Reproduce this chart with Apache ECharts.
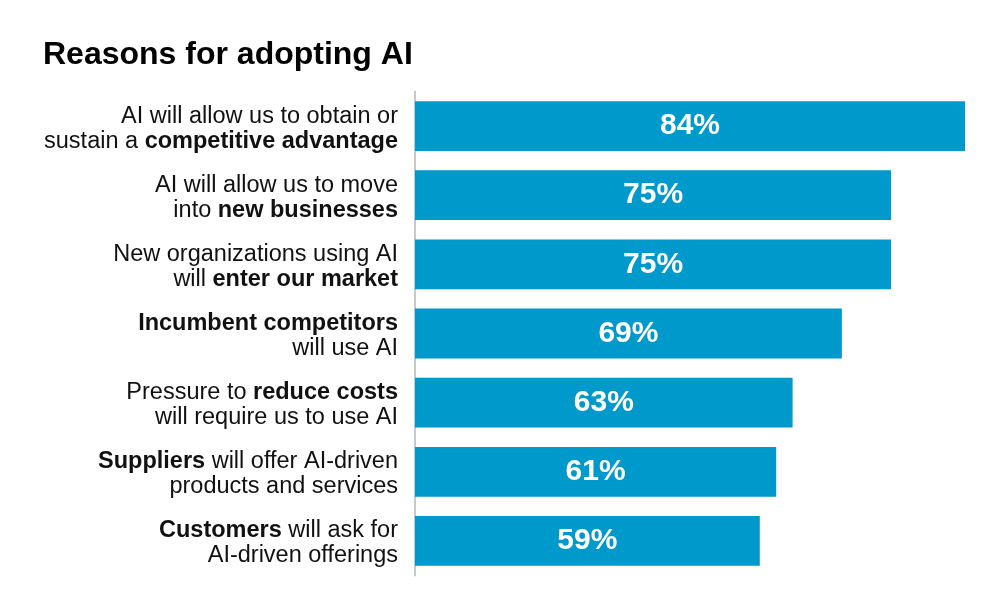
<!DOCTYPE html>
<html><head><meta charset="utf-8">
<script src="https://cdn.jsdelivr.net/npm/echarts@6/dist/echarts.min.js"></script>
<style>html,body{margin:0;padding:0;background:#fff}#c{width:1000px;height:600px}</style>
</head><body><div id="c"></div>
<script>
const titleText = 'Reasons for adopting AI';
const categories = [
  'AI will allow us to obtain or\nsustain a competitive advantage',
  'AI will allow us to move\ninto new businesses',
  'New organizations using AI\nwill enter our market',
  'Incumbent competitors\nwill use AI',
  'Pressure to reduce costs\nwill require us to use AI',
  'Suppliers will offer AI-driven\nproducts and services',
  'Customers will ask for\nAI-driven offerings'
];
const boldPhrases = [
  'competitive advantage',
  'new businesses',
  'enter our market',
  'Incumbent competitors',
  'reduce costs',
  'Suppliers',
  'Customers'
];
const values = [84, 75, 75, 69, 63, 61, 59];

const FONT = '"Liberation Sans", Arial, sans-serif';

function richLabel(text, idx) {
  const bp = boldPhrases[idx];
  return text.split('\n').map(line => {
    const i = line.indexOf(bp);
    if (i < 0) return '{n|' + line + '}';
    let out = '';
    if (i > 0) out += '{n|' + line.slice(0, i) + '}';
    out += '{b|' + bp + '}';
    if (i + bp.length < line.length) out += '{n|' + line.slice(i + bp.length) + '}';
    return out;
  }).join('\n');
}

const chart = echarts.init(document.getElementById('c'));
chart.setOption({
  animation: false,
  backgroundColor: '#fff',
  title: {
    text: titleText, left: 38, top: 34,
    textStyle: { fontFamily: FONT, fontSize: 32, fontWeight: 'bold', color: '#000' }
  },
  grid: { left: 415, right: 35, top: 91.5, bottom: 24.5, containLabel: false },
  xAxis: { type: 'value', min: 17, max: 84, show: false },
  yAxis: {
    type: 'category', data: categories, inverse: true,
    axisLine: { show: true, lineStyle: { color: '#c8c8c8', width: 2 } },
    axisTick: { show: false },
    axisLabel: {
      margin: 17, align: 'right', padding: [5, 0, 0, 0],
      formatter: (v, i) => richLabel(v, i),
      rich: {
        n: { fontFamily: FONT, fontSize: 23.5, color: '#111', lineHeight: 25, align: 'right' },
        b: { fontFamily: FONT, fontSize: 23.5, fontWeight: 'bold', color: '#111', lineHeight: 25, align: 'right' }
      }
    }
  },
  series: [{
    type: 'bar', data: values, barCategoryGap: '28%',
    itemStyle: { color: '#0099CC' },
    label: {
      show: true, position: 'inside', formatter: '{c}%',
      color: '#fff', fontFamily: FONT, fontSize: 30, fontWeight: 'bold'
    }
  }]
});
</script></body></html>
